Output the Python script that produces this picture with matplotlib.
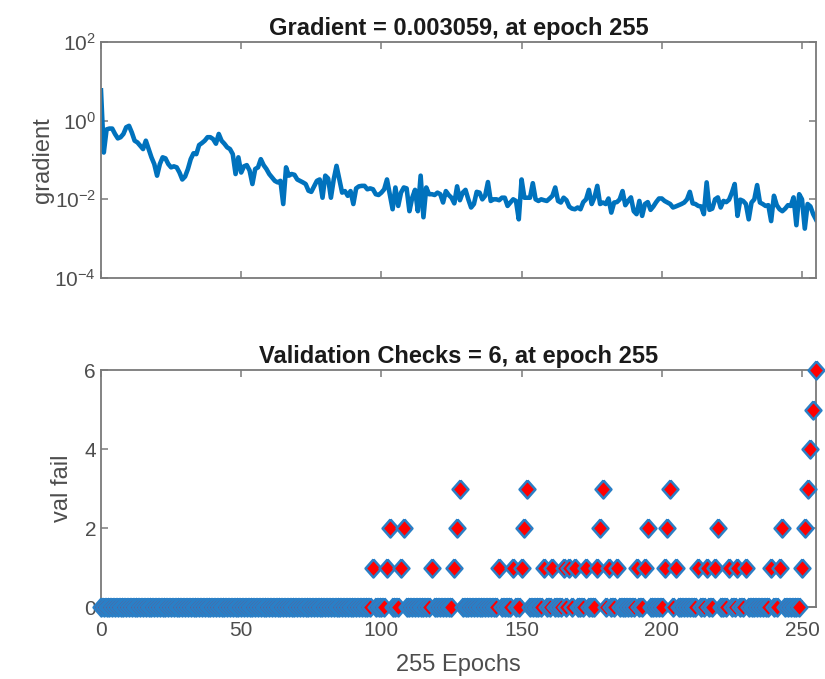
import matplotlib
matplotlib.use('Agg')
import matplotlib.pyplot as plt
from matplotlib.ticker import NullLocator

plt.rcParams['font.family'] = ['Liberation Sans', 'DejaVu Sans']
plt.rcParams['mathtext.fontset'] = 'custom'
plt.rcParams['mathtext.rm'] = 'Liberation Sans'

epochs = list(range(256))

# gradient per epoch
gradient = [
    5.9, 0.155, 0.60, 0.63, 0.63, 0.46, 0.355, 0.38, 0.46, 0.68, 0.74, 0.50, 0.31, 0.28, 0.23, 0.19,
    0.31, 0.19, 0.117, 0.079, 0.040, 0.079, 0.117, 0.11, 0.079, 0.065, 0.069, 0.065, 0.048, 0.032, 0.038, 0.059,
    0.105, 0.148, 0.141, 0.24, 0.27, 0.31, 0.38, 0.38, 0.34, 0.26, 0.46, 0.31, 0.26, 0.21, 0.19, 0.141,
    0.044, 0.117, 0.048, 0.069, 0.074, 0.054, 0.0245, 0.059, 0.065, 0.105, 0.074, 0.059, 0.044, 0.036, 0.0295, 0.027,
    0.0295, 0.0076, 0.065, 0.040, 0.044, 0.042, 0.032, 0.0295, 0.027, 0.0245, 0.0166, 0.0155, 0.0214, 0.0295, 0.032, 0.011,
    0.040, 0.034, 0.011, 0.032, 0.071, 0.032, 0.0148, 0.0162, 0.0123, 0.0162, 0.0076, 0.019, 0.0214, 0.022, 0.022, 0.018,
    0.019, 0.018, 0.0135, 0.0129, 0.0148, 0.018, 0.032, 0.0135, 0.0056, 0.020, 0.0068, 0.0148, 0.020, 0.019, 0.0050, 0.011,
    0.0174, 0.0050, 0.040, 0.0035, 0.020, 0.0135, 0.0135, 0.0129, 0.0148, 0.0135, 0.0083, 0.0162, 0.0129, 0.011, 0.0079, 0.0214,
    0.0095, 0.0148, 0.0174, 0.010, 0.0062, 0.0076, 0.0155, 0.0148, 0.010, 0.0123, 0.0275, 0.0091, 0.010, 0.010, 0.0095, 0.011,
    0.011, 0.0068, 0.0083, 0.010, 0.0091, 0.0031, 0.032, 0.011, 0.011, 0.011, 0.0257, 0.010, 0.0091, 0.010, 0.0095, 0.0091,
    0.0105, 0.0123, 0.020, 0.0091, 0.0083, 0.011, 0.0095, 0.0065, 0.0058, 0.0056, 0.0062, 0.0056, 0.0085, 0.010, 0.0174, 0.0076,
    0.0112, 0.022, 0.0076, 0.0083, 0.0076, 0.0105, 0.0046, 0.0083, 0.0085, 0.010, 0.0162, 0.0071, 0.0091, 0.0112, 0.0050, 0.0042,
    0.0091, 0.0038, 0.0076, 0.0085, 0.0054, 0.0066, 0.0085, 0.0105, 0.0105, 0.0091, 0.0083, 0.0076, 0.0062, 0.0066, 0.0071, 0.0076,
    0.0083, 0.010, 0.0155, 0.0079, 0.0076, 0.0068, 0.0066, 0.0042, 0.027, 0.0054, 0.0058, 0.010, 0.0112, 0.0062, 0.0091, 0.0085,
    0.0098, 0.0148, 0.0245, 0.0038, 0.0098, 0.0091, 0.0076, 0.0031, 0.0083, 0.010, 0.023, 0.0083, 0.0076, 0.0068, 0.0071, 0.0028,
    0.0123, 0.0071, 0.0056, 0.0050, 0.0058, 0.0071, 0.0068, 0.0112, 0.0022, 0.0135, 0.010, 0.0018, 0.0076, 0.0066, 0.0042, 0.003059,
]

# validation failures per epoch
val_fail = [
    0, 0, 0, 0, 0, 0, 0, 0, 0, 0, 0, 0, 0, 0, 0, 0,
    0, 0, 0, 0, 0, 0, 0, 0, 0, 0, 0, 0, 0, 0, 0, 0,
    0, 0, 0, 0, 0, 0, 0, 0, 0, 0, 0, 0, 0, 0, 0, 0,
    0, 0, 0, 0, 0, 0, 0, 0, 0, 0, 0, 0, 0, 0, 0, 0,
    0, 0, 0, 0, 0, 0, 0, 0, 0, 0, 0, 0, 0, 0, 0, 0,
    0, 0, 0, 0, 0, 0, 0, 0, 0, 0, 0, 0, 0, 0, 0, 0,
    0, 1, 0, 0, 0, 0, 1, 2, 0, 0, 0, 1, 2, 0, 0, 0,
    0, 0, 0, 0, 0, 0, 1, 0, 0, 0, 0, 0, 0, 0, 1, 2,
    3, 0, 0, 0, 0, 0, 0, 0, 0, 0, 0, 0, 0, 0, 1, 0,
    0, 0, 0, 1, 0, 0, 1, 2, 3, 0, 0, 0, 0, 0, 1, 0,
    0, 1, 0, 0, 0, 1, 0, 1, 0, 1, 0, 0, 0, 1, 0, 0,
    0, 1, 2, 3, 0, 1, 0, 0, 1, 0, 0, 0, 0, 0, 0, 1,
    0, 0, 1, 2, 0, 0, 0, 0, 0, 1, 2, 3, 0, 1, 0, 0,
    0, 0, 0, 0, 0, 1, 0, 0, 1, 0, 0, 1, 2, 0, 0, 0,
    1, 0, 0, 1, 0, 0, 1, 0, 0, 0, 0, 0, 0, 0, 0, 1,
    0, 0, 1, 2, 0, 0, 0, 0, 0, 0, 1, 2, 3, 4, 5, 6,
]

x_ticks = [0, 50, 100, 150, 200, 250]
blue = '#0072BD'
axis_col = '#7a7a7a'
text_col = '#4d4d4d'

# slightly tall diamond like the MATLAB one
diamond = [(0, 1), (0.88, 0), (0, -1), (-0.88, 0), (0, 1)]

fig = plt.figure(figsize=(8.25, 6.79), dpi=100)

# top: gradient
ax1 = fig.add_axes([0.1224, 0.5906, 0.8667, 0.3475])
ax1.semilogy(epochs, gradient, color=blue, lw=3.3)
ax1.set_xlim(0, 255)
ax1.set_ylim(1e-4, 1e2)
ax1.set_yticks([1e-4, 1e-2, 1e0, 1e2])
ax1.yaxis.set_minor_locator(NullLocator())
ax1.set_xticks(x_ticks)
ax1.set_xticklabels([])
ax1.set_title('Gradient = 0.003059, at epoch 255', fontsize=17, fontweight='bold',
              color='#1a1a1a', pad=5)
ax1.set_ylabel('gradient', fontsize=17, color=text_col, labelpad=0)

# bottom: validation checks
ax2 = fig.add_axes([0.1224, 0.106, 0.8667, 0.349])
ax2.plot(epochs, val_fail, linestyle='none', marker=diamond, markersize=13,
         markerfacecolor='red', markeredgecolor='#2a7fc6', markeredgewidth=1.8,
         clip_on=False, zorder=3)
ax2.set_xlim(0, 255)
ax2.set_ylim(0, 6)
ax2.set_yticks([0, 2, 4, 6])
ax2.set_xticks(x_ticks)
ax2.set_title('Validation Checks = 6, at epoch 255', fontsize=17, fontweight='bold',
              color='#1a1a1a', pad=5)
ax2.set_ylabel('val fail', fontsize=17, color=text_col, labelpad=8)
ax2.set_xlabel('255 Epochs', fontsize=17, color=text_col, labelpad=10)

for ax in (ax1, ax2):
    ax.tick_params(direction='in', top=True, right=True, length=5, width=1.1,
                   color=axis_col, labelcolor=text_col, labelsize=15)
    ax.tick_params(axis='x', pad=10)
    for s in ax.spines.values():
        s.set_color(axis_col)
        s.set_linewidth(1.3)

fig.savefig('out.png', dpi=100)
plt.close()
